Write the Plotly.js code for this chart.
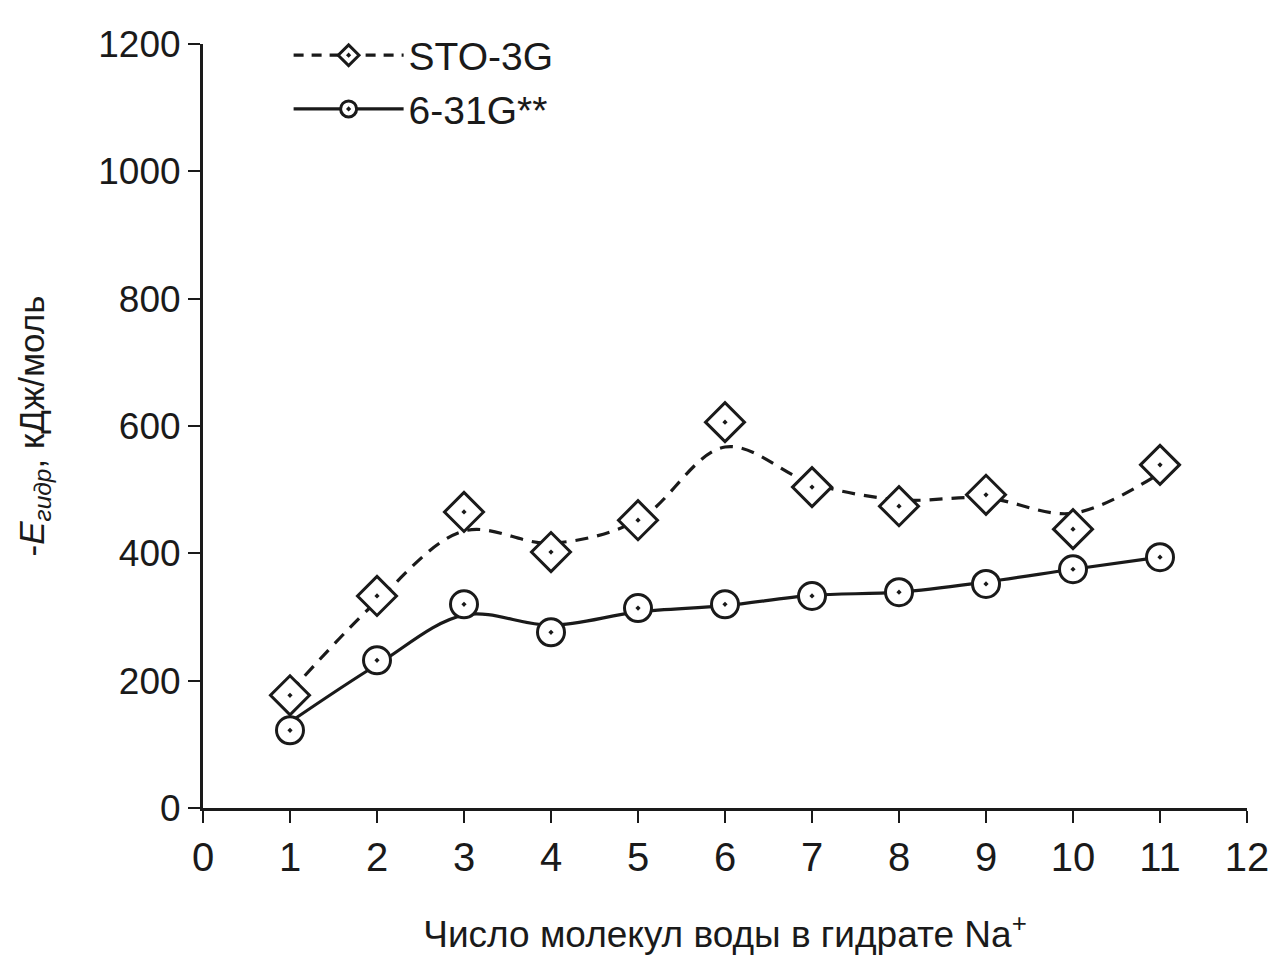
<!DOCTYPE html>
<html>
<head>
<meta charset="utf-8">
<script src="https://cdn.plot.ly/plotly-3.0.1.min.js"></script>
<style>html,body{margin:0;padding:0;background:#fff;}#chart{width:1279px;height:957px;}</style>
</head>
<body>
<div id="chart"></div>
<script>
// Number of water molecules in the Na+ hydrate
var nWater = [1, 2, 3, 4, 5, 6, 7, 8, 9, 10, 11];
// Computed points (markers), kJ/mol
var sto3gPoints = [177, 333, 465, 402, 452, 606, 504, 474, 492, 438, 539];
var g631Points = [122, 232, 320, 276, 314, 320, 333, 339, 352, 375, 394];
// Smoothed trend curves as drawn in the figure, kJ/mol
var sto3gCurve = [182, 325, 435, 416, 452, 567, 510, 484, 487, 463, 526];
var g631Curve = [135, 225, 303, 287, 308, 318, 334, 339, 355, 375, 394];
// Axis ticks
var xTicks = [0, 1, 2, 3, 4, 5, 6, 7, 8, 9, 10, 11, 12];
var yTicks = [0, 200, 400, 600, 800, 1000, 1200];
var seriesNames = ["STO-3G", "6-31G**"];

var ink = "#1a1a1a";
var lw = 3.2;
var dashPat = "13px,9px";
var traces = [
  {x: nWater, y: sto3gCurve, mode: "lines", line: {color: ink, width: lw, dash: dashPat, shape: "spline", smoothing: 1.0}, showlegend: false, hoverinfo: "skip"},
  {x: nWater, y: g631Curve, mode: "lines", line: {color: ink, width: lw, shape: "spline", smoothing: 1.0}, showlegend: false, hoverinfo: "skip"},
  {x: nWater, y: sto3gPoints, mode: "markers", marker: {symbol: "diamond-dot", size: 30, color: "#ffffff", line: {color: ink, width: 3}}, showlegend: false},
  {x: nWater, y: g631Points, mode: "markers", marker: {symbol: "circle-dot", size: 27, color: "#ffffff", line: {color: ink, width: 3}}, showlegend: false},
  {x: [null], y: [null], name: seriesNames[0], mode: "lines+markers", line: {color: ink, width: lw, dash: "10px,8px"}, marker: {symbol: "diamond-dot", size: 24, color: "#ffffff", line: {color: ink, width: 3}}},
  {x: [null], y: [null], name: seriesNames[1], mode: "lines+markers", line: {color: ink, width: lw}, marker: {symbol: "circle-dot", size: 22, color: "#ffffff", line: {color: ink, width: 3}}}
];

var layout = {
  width: 1279, height: 957,
  margin: {l: 203, r: 32, t: 44, b: 149},
  paper_bgcolor: "#fff", plot_bgcolor: "#fff",
  font: {family: "Liberation Sans, Arial, sans-serif", color: ink},
  showlegend: true,
  legend: {x: 0.082, y: 1.027, xanchor: "left", yanchor: "top", font: {size: 39, color: ink}, bgcolor: "rgba(0,0,0,0)", itemwidth: 110, tracegroupgap: 0},
  xaxis: {
    range: [0, 12], tickvals: xTicks, ticktext: xTicks.map(String),
    showline: true, linecolor: ink, linewidth: 3, mirror: false,
    ticks: "outside", ticklen: 12, tickwidth: 2, tickcolor: ink,
    showgrid: false, zeroline: false,
    tickfont: {size: 40, color: ink},
    title: {text: "Число молекул воды в гидрате Na<sup>+</sup>", font: {size: 37, color: ink}, standoff: 44}
  },
  yaxis: {
    range: [0, 1200], tickvals: yTicks, ticktext: yTicks.map(String),
    showline: true, linecolor: ink, linewidth: 3, mirror: false,
    ticks: "outside", ticklen: 12, tickwidth: 2, tickcolor: ink,
    showgrid: false, zeroline: false,
    tickfont: {size: 37, color: ink},
    title: {text: "-<i>E</i><sub><i>гидр</i></sub>, кДж/моль", font: {size: 35, color: ink}, standoff: 44}
  }
};

Plotly.newPlot("chart", traces, layout, {displayModeBar: false, staticPlot: true});
</script>
</body>
</html>
